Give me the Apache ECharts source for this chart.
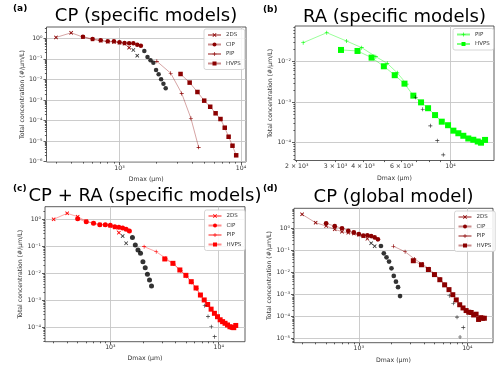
<!DOCTYPE html>
<html>
<head>
<meta charset="utf-8">
<title>Total concentration vs Dmax</title>
<script src="https://cdn.jsdelivr.net/npm/echarts@6/dist/echarts.min.js"></script>
<style>
html, body { margin: 0; padding: 0; background: #fff; }
#chart { width: 500px; height: 370px; }
</style>
</head>
<body>
<div id="chart"></div>
<script>
// size bins (um)
var ds2D = [300, 400, 500, 600, 700, 800, 900, 1000, 1100, 1200];
var ds2DRej = [1300, 1400];
var cipD = [500, 600, 700, 800, 900, 1000, 1100, 1200, 1300, 1400, 1500];
var cipDRej = [1600, 1700, 1800, 1900, 2000, 2100, 2200, 2300, 2400];
var hvpsD = [3180, 3780, 4380, 4980, 5580, 6180, 6780, 7350, 7910, 8510, 9130, 9750, 10310, 10860, 11440, 12050, 12700, 13300, 13770, 14360];

// (a) CP specific
var a2ds = [1.1, 1.85, 1.15, 0.88, 0.76, 0.68, 0.66, 0.6, 0.55, 0.35];
var a2dsRej = [0.27, 0.143];
var aCip = [1.2, 0.92, 0.8, 0.71, 0.71, 0.64, 0.59, 0.57, 0.57, 0.49, 0.44];
var aCipRej = [0.24, 0.123, 0.085, 0.065, 0.029, 0.0177, 0.0101, 0.0062, 0.0037];
var aPipD = [2030, 2640, 3250, 3870, 4480];
var aPip = [0.076, 0.02, 0.0021, 1.3e-4, 5.0e-6];
var aHvps = [0.0184, 0.007, 0.00245, 9.3e-4, 4.7e-4, 2.26e-4, 1.19e-4, 4.5e-5, 1.64e-5, 6.0e-6, 2.05e-6];

// (b) RA specific
var bPipD = [2140, 2740, 3370, 3950, 4580, 5160, 5730, 6320];
var bPip = [0.0294, 0.052, 0.0324, 0.0222, 0.0133, 0.0091, 0.0053, 0.0028];
var bPipDRej = [6950, 7480, 8100, 8710, 9270];
var bPipRej = [0.00132, 6.7e-4, 2.6e-4, 1.12e-4, 5.0e-5];
var bHvps = [0.0195, 0.0184, 0.0126, 0.0077, 0.00464, 0.00287, 0.00145, 9.9e-4, 7.1e-4, 4.8e-4, 3.3e-4, 2.7e-4, 1.98e-4, 1.71e-4, 1.48e-4, 1.27e-4, 1.18e-4, 1.07e-4, 1.0e-4, 1.17e-4];

// (c) CP + RA specific
var c2ds = [1.0, 1.67, 1.25, 0.85, 0.72, 0.64, 0.62, 0.57, 0.5, 0.32];
var c2dsRej = [0.24, 0.13];
var cCip = [1.05, 0.81, 0.71, 0.63, 0.63, 0.6, 0.53, 0.51, 0.48, 0.43, 0.37];
var cCipRej = [0.21, 0.112, 0.073, 0.055, 0.027, 0.0161, 0.0092, 0.0056, 0.0034];
var cPipD = [2050, 2650, 3250, 3850, 4450, 5050, 5650, 6250, 6850];
var cPip = [0.097, 0.063, 0.036, 0.022, 0.0125, 0.0078, 0.0046, 0.0027, 0.0015];
var cPipDRej = [7430, 7970, 8540, 9180];
var cPipRej = [6.3e-4, 2.5e-4, 1.05e-4, 4.5e-5];
var cHvps = [0.034, 0.0234, 0.0133, 0.0084, 0.0049, 0.00286, 0.00157, 0.00103, 7.0e-4, 4.7e-4, 3.3e-4, 2.47e-4, 1.9e-4, 1.62e-4, 1.41e-4, 1.22e-4, 1.05e-4, 1.0e-4, 9.7e-5, 1.17e-4];

// (d) CP global
var d2ds = [4.5, 1.87, 1.33, 0.94, 0.73, 0.66, 0.6, 0.53, 0.45, 0.35];
var d2dsRej = [0.22, 0.16];
var dCip = [1.75, 1.3, 1.05, 0.8, 0.68, 0.57, 0.48, 0.5, 0.46, 0.4, 0.33];
var dCipRej = [0.164, 0.076, 0.05, 0.032, 0.0158, 0.0071, 0.0039, 0.0022, 8.7e-4];
var dPipD = [2080, 2670, 3260, 3850, 4440, 5030, 5620, 6210];
var dPip = [0.16, 0.09, 0.042, 0.025, 0.015, 0.0088, 0.0052, 0.003];
var dPipDRej = [6820, 7430, 8040, 8570, 9180];
var dPipRej = [9e-4, 4.1e-4, 9.5e-5, 1.2e-5, 3.2e-5];
var dHvps = [0.035, 0.023, 0.014, 0.0082, 0.0048, 0.0028, 0.0017, 0.001, 5.8e-4, 3.5e-4, 2.5e-4, 1.9e-4, 1.6e-4, 1.55e-4, 1.2e-4, 1.3e-4, 7.5e-5, 9e-5, 8.5e-5, 8.5e-5];

// tick labels
var xDecadeLabels = [1000, 10000];
var bXLabels = [2000, 3000, 4000, 6000, 10000];

var FONT = 'DejaVu Sans';
var SYM_X = 'path://M0,1.5L1.5,0L5,3.5L8.5,0L10,1.5L6.5,5L10,8.5L8.5,10L5,6.5L1.5,10L0,8.5L3.5,5Z';
var SYM_PLUS = 'path://M4.2,0H5.8V4.2H10V5.8H5.8V10H4.2V5.8H0V4.2H4.2Z';
var SUP = {'0':'⁰','1':'¹','2':'²','3':'³','4':'⁴','5':'⁵','6':'⁶','7':'⁷','8':'⁸','9':'⁹','-':'⁻'};

function supLabel(v){
	var e = Math.floor(Math.log10(v) + 1e-9);
	var m = Math.round(v / Math.pow(10, e));
	var s = String(e).split('').map(function(c){ return SUP[c]; }).join('');
	return (m === 1 ? '' : m + ' × ') + '10' + s;
}
function decades(lo, hi){
	var r = [];
	for (var e = lo; e <= hi; e++) r.push(Math.pow(10, e));
	return r;
}
function minors(lo, hi){
	var r = [];
	for (var e = lo; e <= hi; e++) {
		for (var m = 2; m <= 9; m++) r.push(m * Math.pow(10, e));
	}
	return r;
}
function pairs(xs, ys){
	var out = [];
	for (var i = 0; i < ys.length; i++) out.push([xs[i], ys[i]]);
	return out;
}

var panels = [
	{
		key: 'a', title: 'CP (specific models)', tag: '(a)',
		grid: {left: 46.5, top: 27, width: 199.5, height: 135},
		xr: [250.7, 10995], yr: [9.69e-7, 3.54],
		xMajor: xDecadeLabels, xLabels: xDecadeLabels, yMajor: decades(-6, 0),
		titlePos: [146, 7], tagPos: [13, 4], legendPos: [204, 29], yGap: 21, xGap: 14,
		color: '#8b0000', line: 'rgba(139,0,0,0.45)',
		series: [
			{name: '2DS', D: ds2D, C: a2ds, sym: SYM_X, size: 4},
			{name: 'CIP', D: cipD, C: aCip, sym: 'circle', size: 4.5},
			{name: 'PIP', D: aPipD, C: aPip, sym: SYM_PLUS, size: 4},
			{name: 'HVPS', D: hvpsD, C: aHvps, sym: 'rect', size: 4.5}
		],
		rejected: [
			{D: ds2DRej, C: a2dsRej, sym: SYM_X, size: 4},
			{D: cipDRej, C: aCipRej, sym: 'circle', size: 4.5}
		]
	},
	{
		key: 'b', title: 'RA (specific models)', tag: '(b)',
		grid: {left: 295, top: 26, width: 199, height: 134.5},
		xr: [1965, 15770], yr: [3.63e-5, 0.0761],
		xMajor: [10000], xLabels: bXLabels, yMajor: decades(-4, -2),
		titlePos: [394.5, 8], tagPos: [263, 5], legendPos: [453, 28.5], yGap: 21, xGap: 15,
		color: '#00ff00', line: 'rgba(0,255,0,0.5)',
		series: [
			{name: 'PIP', D: bPipD, C: bPip, sym: SYM_PLUS, size: 4},
			{name: 'HVPS', D: hvpsD, C: bHvps, sym: 'rect', size: 6}
		],
		rejected: [
			{D: bPipDRej, C: bPipRej, sym: SYM_PLUS, size: 4}
		]
	},
	{
		key: 'c', title: 'CP + RA (specific models)', tag: '(c)',
		grid: {left: 45, top: 206.7, width: 200, height: 135},
		xr: [249.8, 17480], yr: [2.93e-5, 2.93],
		xMajor: xDecadeLabels, xLabels: xDecadeLabels, yMajor: decades(-4, 0),
		titlePos: [145, 187], tagPos: [13, 184], legendPos: [204.5, 210], yGap: 21, xGap: 14,
		color: '#ff0000', line: 'rgba(255,0,0,0.45)',
		series: [
			{name: '2DS', D: ds2D, C: c2ds, sym: SYM_X, size: 4},
			{name: 'CIP', D: cipD, C: cCip, sym: 'circle', size: 5},
			{name: 'PIP', D: cPipD, C: cPip, sym: SYM_PLUS, size: 4},
			{name: 'HVPS', D: hvpsD, C: cHvps, sym: 'rect', size: 5}
		],
		rejected: [
			{D: ds2DRej, C: c2dsRej, sym: SYM_X, size: 4},
			{D: cipDRej, C: cCipRej, sym: 'circle', size: 5},
			{D: cPipDRej, C: cPipRej, sym: SYM_PLUS, size: 4}
		]
	},
	{
		key: 'd', title: 'CP (global model)', tag: '(d)',
		grid: {left: 294, top: 208.3, width: 199, height: 134.4},
		xr: [252.8, 17250], yr: [6.58e-6, 8.46],
		xMajor: xDecadeLabels, xLabels: xDecadeLabels, yMajor: decades(-5, 0),
		titlePos: [393.5, 188.5], tagPos: [263, 184], legendPos: [454.5, 211], yGap: 21, xGap: 15,
		color: '#8b0000', line: 'rgba(139,0,0,0.45)',
		series: [
			{name: '2DS', D: ds2D, C: d2ds, sym: SYM_X, size: 4},
			{name: 'CIP', D: cipD, C: dCip, sym: 'circle', size: 4.7},
			{name: 'PIP', D: dPipD, C: dPip, sym: SYM_PLUS, size: 4},
			{name: 'HVPS', D: hvpsD, C: dHvps, sym: 'rect', size: 5}
		],
		rejected: [
			{D: ds2DRej, C: d2dsRej, sym: SYM_X, size: 4},
			{D: cipDRej, C: dCipRej, sym: 'circle', size: 4.7},
			{D: dPipDRej, C: dPipRej, sym: SYM_PLUS, size: 4}
		]
	}
];

var option = {animation: false, title: [], legend: [], grid: [], xAxis: [], yAxis: [], series: []};
var tickStyle = {color: '#333', width: 0.8};
var labelStyle = {fontSize: 6.2, color: '#333', fontFamily: FONT};
var gridLine = {show: true, lineStyle: {color: '#c6c6c6', width: 0.9}};

panels.forEach(function(p, k){
	option.grid.push({
		left: p.grid.left, top: p.grid.top, width: p.grid.width, height: p.grid.height,
		show: true, borderColor: '#333', borderWidth: 0.8, containLabel: false
	});
	option.title.push({
		text: p.title, left: p.titlePos[0], top: p.titlePos[1], textAlign: 'center', padding: 0,
		textStyle: {fontFamily: FONT, fontSize: 18, fontWeight: 'normal', color: '#000'}
	});
	option.title.push({
		text: p.tag, left: p.tagPos[0], top: p.tagPos[1], padding: 0,
		textStyle: {fontFamily: FONT, fontSize: 9, fontWeight: 'bold', color: '#000'}
	});

	// main axes: decade ticks, labels, grid lines
	option.xAxis.push({
		type: 'log', logBase: 10, gridIndex: k, min: p.xr[0], max: p.xr[1], position: 'bottom',
		axisLine: {show: false},
		axisTick: {customValues: p.xMajor, length: 3, lineStyle: tickStyle},
		axisLabel: {customValues: p.xLabels, formatter: supLabel, margin: 3, fontSize: labelStyle.fontSize, color: labelStyle.color, fontFamily: FONT},
		splitLine: gridLine,
		name: 'Dmax (μm)', nameLocation: 'middle', nameGap: p.xGap,
		nameTextStyle: labelStyle
	});
	option.yAxis.push({
		type: 'log', logBase: 10, gridIndex: k, min: p.yr[0], max: p.yr[1], position: 'left',
		axisLine: {show: false},
		axisTick: {customValues: p.yMajor, length: 3, lineStyle: tickStyle},
		axisLabel: {customValues: p.yMajor, formatter: supLabel, margin: 4, fontSize: labelStyle.fontSize, color: labelStyle.color, fontFamily: FONT},
		splitLine: gridLine,
		name: 'Total concentration (#/μm/L)', nameLocation: 'middle', nameRotate: 90, nameGap: p.yGap,
		nameTextStyle: labelStyle
	});
	// minor ticks only
	option.xAxis.push({
		type: 'log', logBase: 10, gridIndex: k, min: p.xr[0], max: p.xr[1], position: 'bottom',
		axisLine: {show: false}, axisLabel: {show: false}, splitLine: {show: false},
		axisTick: {customValues: minors(2, 4), length: 1.6, lineStyle: tickStyle}
	});
	option.yAxis.push({
		type: 'log', logBase: 10, gridIndex: k, min: p.yr[0], max: p.yr[1], position: 'left',
		axisLine: {show: false}, axisLabel: {show: false}, splitLine: {show: false},
		axisTick: {customValues: minors(-7, 1), length: 1.6, lineStyle: tickStyle}
	});

	var names = [];
	p.series.forEach(function(s){
		var nm = p.key + ':' + s.name;
		names.push(nm);
		option.series.push({
			name: nm, type: 'line', xAxisIndex: 2 * k, yAxisIndex: 2 * k,
			data: pairs(s.D, s.C), symbol: s.sym, symbolSize: s.size,
			itemStyle: {color: p.color},
			lineStyle: {color: p.line, width: 0.8},
			emphasis: {disabled: true}, z: 3
		});
	});
	// points left out of the fit, drawn black
	p.rejected.forEach(function(s, j){
		option.series.push({
			name: p.key + ':rej' + j, type: 'scatter', xAxisIndex: 2 * k, yAxisIndex: 2 * k,
			data: pairs(s.D, s.C), symbol: s.sym, symbolSize: s.size,
			itemStyle: {color: '#000'}, emphasis: {disabled: true}, z: 4
		});
	});

	option.legend.push({
		data: names, orient: 'vertical', left: p.legendPos[0], top: p.legendPos[1],
		formatter: function(n){ return n.split(':')[1]; },
		itemWidth: 13, itemHeight: 5, itemGap: 3.5, padding: [3, 4, 3, 3],
		textStyle: {fontSize: 5.5, color: '#333', fontFamily: FONT},
		backgroundColor: 'rgba(255,255,255,0.85)', borderColor: '#cccccc', borderWidth: 0.8, borderRadius: 2,
		selectedMode: false
	});
});

var chart = echarts.init(document.getElementById('chart'), null, {renderer: 'canvas'});
chart.setOption(option);
</script>
</body>
</html>
